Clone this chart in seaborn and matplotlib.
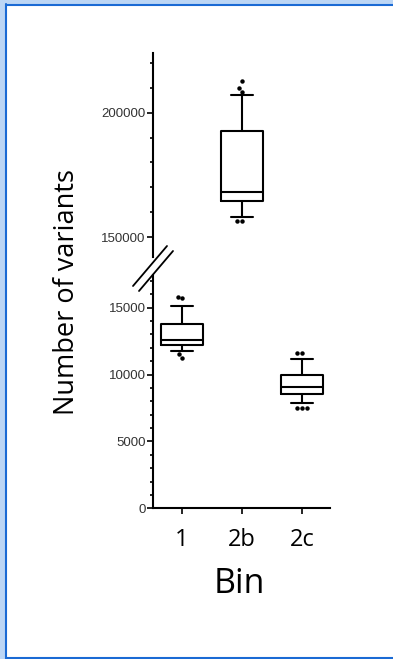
import matplotlib
matplotlib.use("Agg")
import matplotlib.pyplot as plt
from matplotlib.lines import Line2D
from matplotlib.patches import Rectangle
from matplotlib.ticker import MultipleLocator
import seaborn as sns
import pandas as pd

# box statistics, one entry per bin
bins = ['1', '2b', '2c']
q1 = [12220, 164700, 8520]
median = [12600, 168000, 9050]
q3 = [13780, 192800, 9970]
whisker_lo = [11800, 158200, 7900]
whisker_hi = [15100, 207100, 11170]
outliers = {
    '1': [15800, 15700, 11520, 11260],
    '2b': [212700, 209800, 208400, 156700, 156700],
    '2c': [11640, 11640, 7480, 7480, 7480],
}

sns.set_style("ticks")
plt.rcParams['font.family'] = ['Liberation Sans', 'DejaVu Sans']
plt.rcParams['text.color'] = 'black'

fig = plt.figure(figsize=(3.93, 6.59), dpi=100)
ax_hi = fig.add_axes([0.3893, 0.6105, 0.4504, 0.3086])
ax_lo = fig.add_axes([0.3893, 0.2287, 0.4504, 0.3540])

upper = [i for i, v in enumerate(median) if v > 100000]
lower = [i for i, v in enumerate(median) if v <= 100000]

def stats(idx):
    return [dict(med=median[i], q1=q1[i], q3=q3[i], whislo=whisker_lo[i],
                 whishi=whisker_hi[i], fliers=[]) for i in idx]

lw = 1.5
style = dict(widths=0.69, capwidths=0.37, showfliers=False, patch_artist=False,
             boxprops=dict(color='black', linewidth=lw),
             medianprops=dict(color='black', linewidth=lw),
             whiskerprops=dict(color='black', linewidth=lw),
             capprops=dict(color='black', linewidth=lw))
ax_lo.bxp(stats(lower), positions=lower, **style)
ax_hi.bxp(stats(upper), positions=upper, **style)

rows = [(b, v) for b in bins for v in outliers[b]]
df = pd.DataFrame(rows, columns=['bin', 'value'])
sns.swarmplot(data=df[df['value'] <= 100000], x='bin', y='value', order=bins,
              color='black', size=3.2, ax=ax_lo)
sns.swarmplot(data=df[df['value'] > 100000], x='bin', y='value', order=bins,
              color='black', size=3.2, ax=ax_hi)

for ax in (ax_lo, ax_hi):
    ax.set_xlim(-0.483, 2.467)
    ax.set_xlabel('')
    ax.set_ylabel('')
    ax.spines['right'].set_visible(False)
    ax.spines['top'].set_visible(False)
    ax.spines['left'].set_linewidth(lw)
    ax.spines['left'].set_color('black')
    ax.spines['bottom'].set_linewidth(lw)
    ax.spines['bottom'].set_color('black')
    ax.tick_params(axis='y', which='major', length=4.5, width=1.2, pad=0.8,
                   labelsize=9.5, labelcolor='#333333', color='black')
    ax.tick_params(axis='y', which='minor', length=2.2, width=1.2, color='black')

ax_hi.set_ylim(142200, 223800)
ax_hi.yaxis.set_major_locator(MultipleLocator(50000))
ax_hi.yaxis.set_minor_locator(MultipleLocator(10000))
ax_hi.spines['bottom'].set_visible(False)
ax_hi.set_xticks([])

ax_lo.set_ylim(0, 17450)
ax_lo.yaxis.set_major_locator(MultipleLocator(5000))
ax_lo.yaxis.set_minor_locator(MultipleLocator(1000))
ax_lo.set_xticks(range(len(bins)))
ax_lo.set_xticklabels(bins, fontfamily='Open Sans', fontsize=17)
ax_lo.tick_params(axis='x', length=4.5, width=1.2, pad=10, color='black',
                  labelcolor='black')

fig.text(67 / 393, 1 - 292 / 659, 'Number of variants', rotation=90,
         ha='center', va='center', fontsize=19.5, fontfamily='Open Sans')
fig.text(239 / 393, 1 - 584 / 659, 'Bin', ha='center', va='center',
         fontsize=24.5, fontfamily='Open Sans')

# axis break marks
W, H = 393.0, 659.0
for dx, dy in ((0, 0), (6, 5)):
    fig.add_artist(Line2D([(133 + dx) / W, (167 + dx) / W],
                          [1 - (286 + dy) / H, 1 - (246 + dy) / H],
                          transform=fig.transFigure, color='black', lw=1.3))

# window frame
fig.add_artist(Rectangle((0, 0), 6 / W, 1, transform=fig.transFigure,
                         color='#bcd6f5', lw=0))
fig.add_artist(Rectangle((0, 1 - 3.5 / H), 1, 3.5 / H, transform=fig.transFigure,
                         color='#bcd6f5', lw=0))
fig.add_artist(Line2D([6.5 / W, 6.5 / W], [0, 1 - 4 / H], transform=fig.transFigure,
                      color='#1a6ad4', lw=1.5))
fig.add_artist(Line2D([6.5 / W, 1], [1 - 4.5 / H, 1 - 4.5 / H], transform=fig.transFigure,
                      color='#1a6ad4', lw=1.5))
fig.add_artist(Line2D([6.5 / W, 1], [1 / H, 1 / H], transform=fig.transFigure,
                      color='#1a6ad4', lw=1.5))

fig.savefig('out.png', dpi=100)
